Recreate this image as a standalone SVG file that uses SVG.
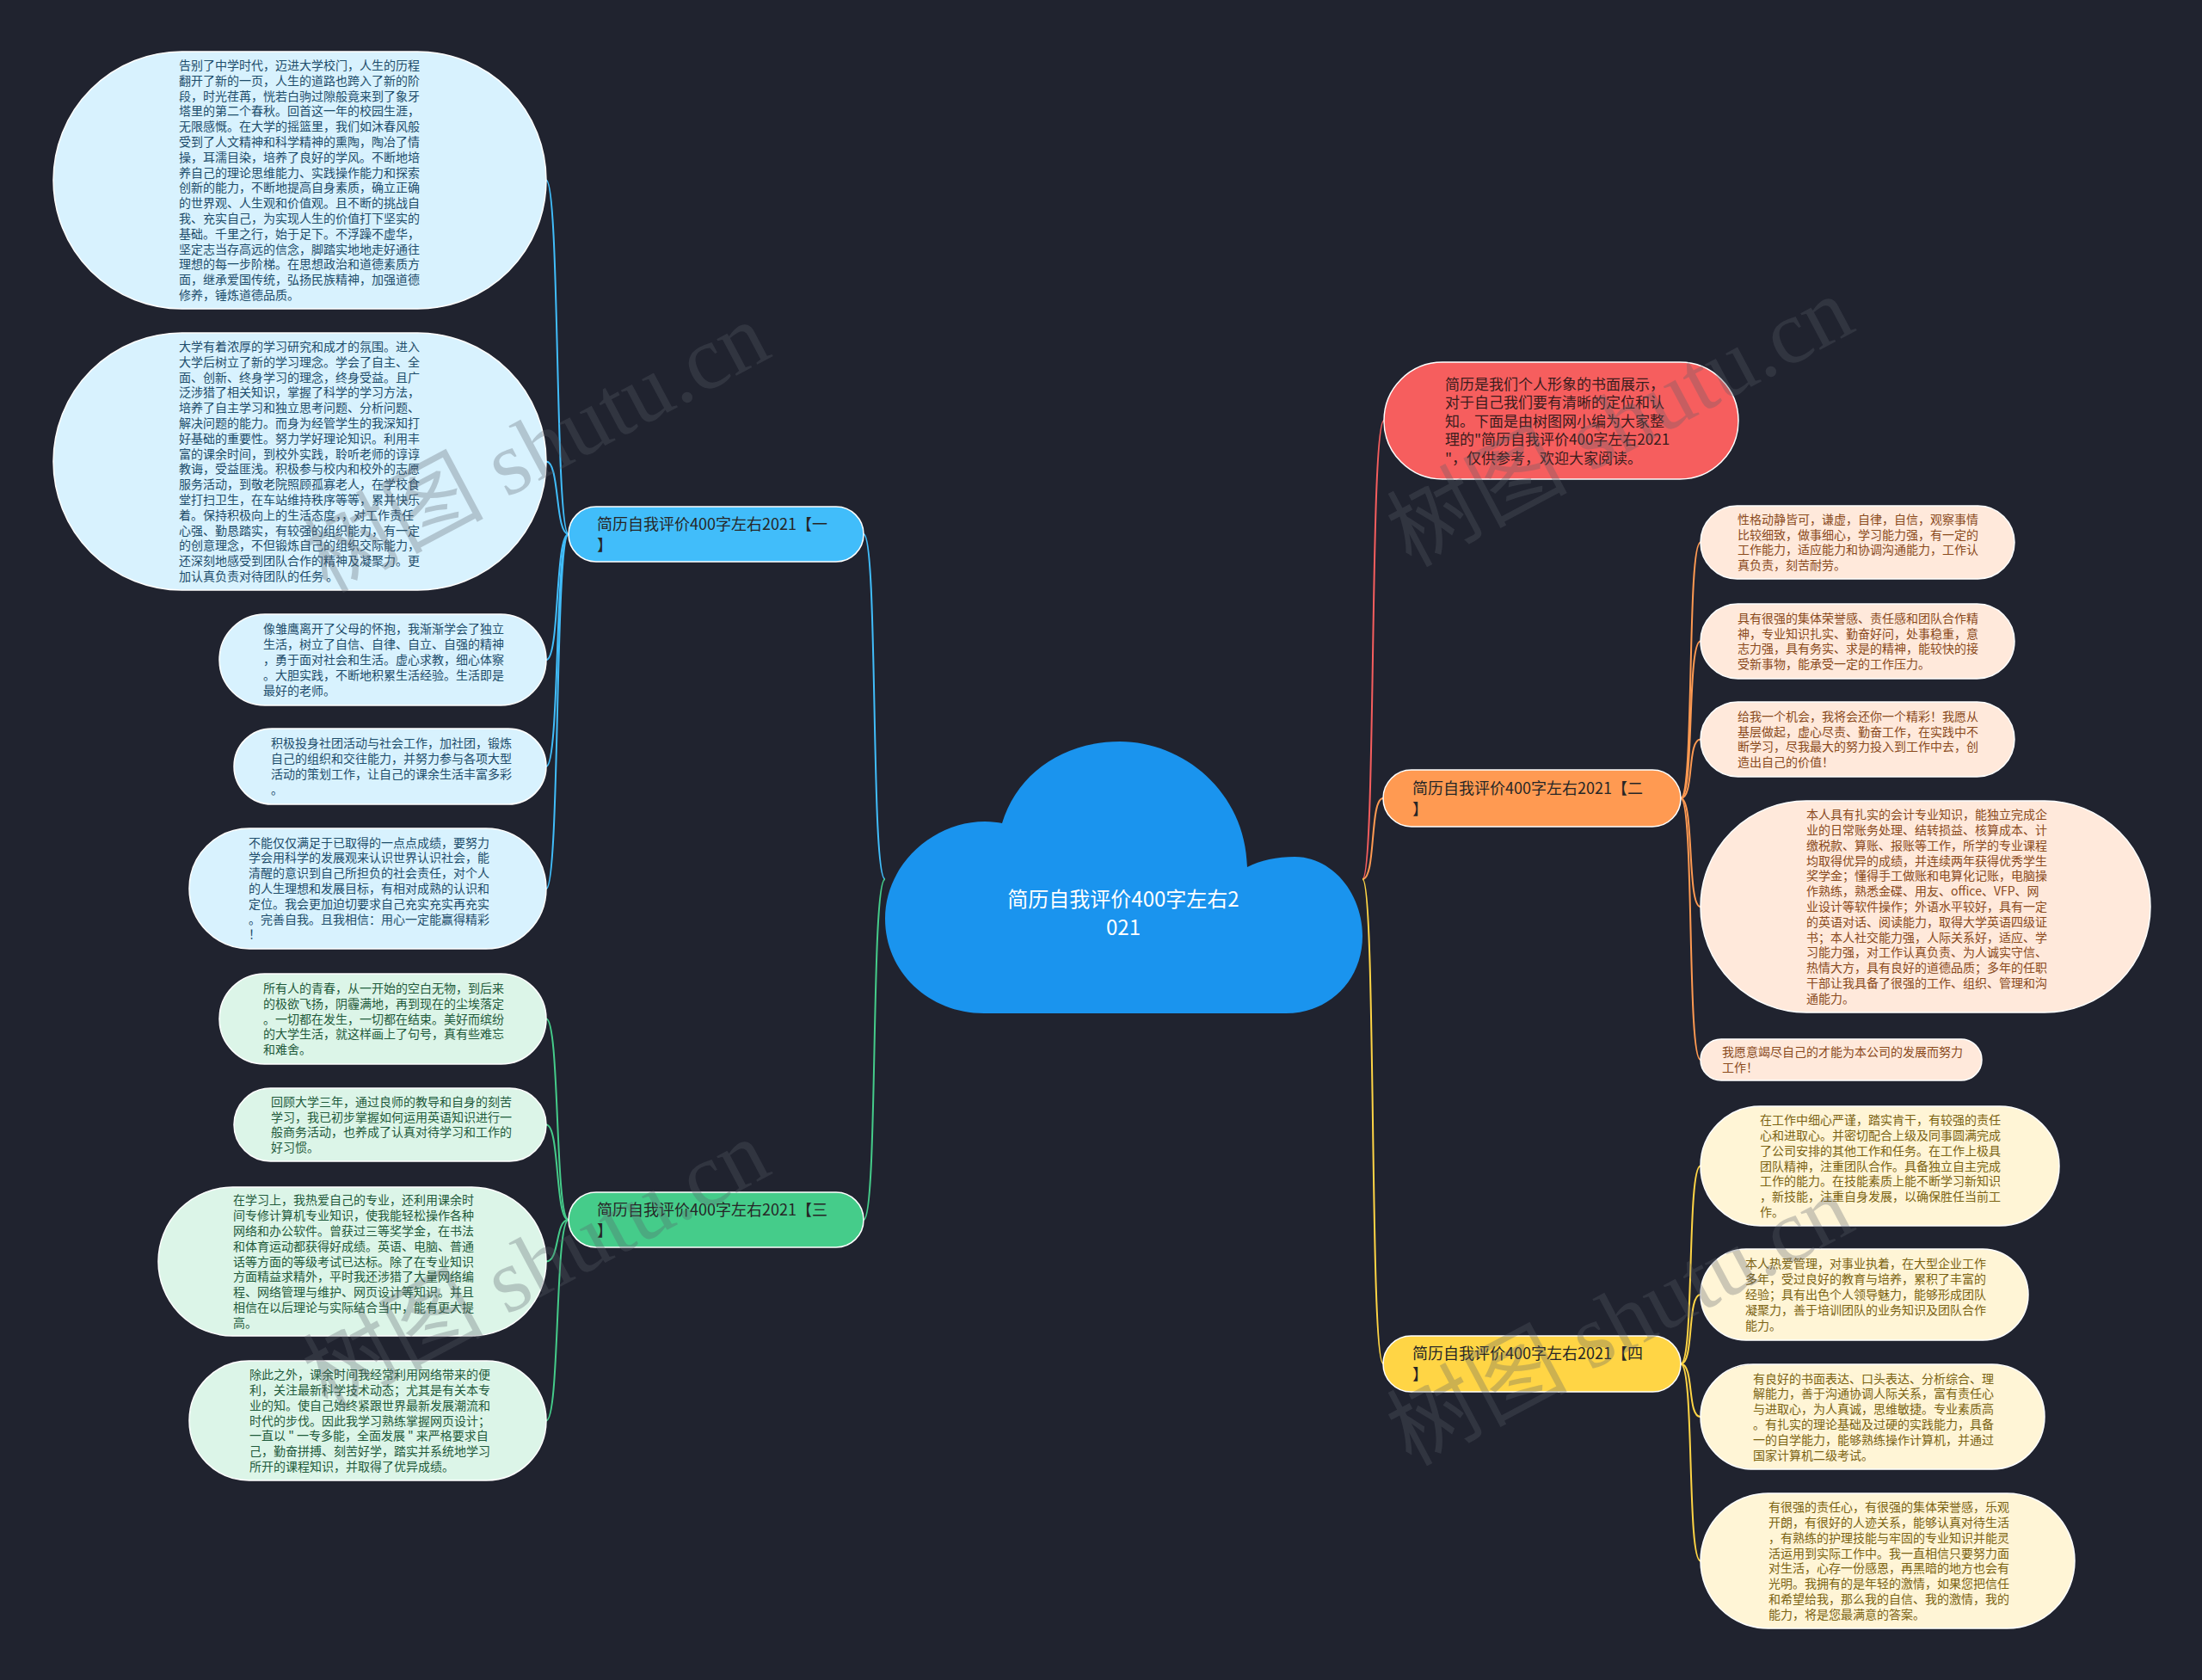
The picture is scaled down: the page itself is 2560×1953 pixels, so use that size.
<svg xmlns="http://www.w3.org/2000/svg" width="2560" height="1953" viewBox="0 0 2560 1953">
<style>
.bg{fill:#20232f}
.ln{fill:none;stroke-width:2}
.nd{stroke:#ffffff;stroke-width:1.5}
.tx{font-family:"Noto Sans CJK SC","Noto Sans",sans-serif;font-size:14px}
.br{font-family:"Noto Sans CJK SC","Noto Sans",sans-serif;font-size:18px;fill:#262626}
.cb{fill:#d8f2fe}.tb{fill:#1d4d6b}
.cg{fill:#dcf5e8}.tg{fill:#1f5a3b}
.co{fill:#ffe9db}.to{fill:#8a4a1c}
.cy{fill:#fff5d6}.ty{fill:#7b6312}
.wm{font-family:"Liberation Serif","Noto Sans CJK SC",serif;font-size:105px;fill:#5a5f6a;opacity:0.3}
</style>
<rect class="bg" x="0" y="0" width="2560" height="1953"/>

<g id="connectors">
<path class="ln" stroke="#41bdfa" d="M1029 1022 C1012 1022,1021 621,1004 621"/>
<path class="ln" stroke="#45cc8a" d="M1029 1022 C1012 1022,1021 1418,1004 1418"/>
<path class="ln" stroke="#f65e5e" d="M1584 1022 C1600 1022,1592 489,1609 489"/>
<path class="ln" stroke="#ff9a52" d="M1584 1022 C1600 1022,1592 928,1608 928"/>
<path class="ln" stroke="#ffd545" d="M1584 1022 C1600 1022,1592 1585,1608 1585"/>
<path class="ln" stroke="#41bdfa" d="M661 621 C645 621,651 209.5,635 209.5"/>
<path class="ln" stroke="#41bdfa" d="M661 621 C645 621,651 536.5,635 536.5"/>
<path class="ln" stroke="#41bdfa" d="M661 621 C645 621,651 767,635 767"/>
<path class="ln" stroke="#41bdfa" d="M661 621 C645 621,651 891,635 891"/>
<path class="ln" stroke="#41bdfa" d="M661 621 C645 621,651 1033,635 1033"/>
<path class="ln" stroke="#45cc8a" d="M661 1418 C645 1418,651 1184.5,635 1184.5"/>
<path class="ln" stroke="#45cc8a" d="M661 1418 C645 1418,651 1307.5,635 1307.5"/>
<path class="ln" stroke="#45cc8a" d="M661 1418 C645 1418,651 1466.5,635 1466.5"/>
<path class="ln" stroke="#45cc8a" d="M661 1418 C645 1418,651 1651.5,635 1651.5"/>
<path class="ln" stroke="#ff9a52" d="M1954 928 C1970 928,1961 630.5,1977 630.5"/>
<path class="ln" stroke="#ff9a52" d="M1954 928 C1970 928,1961 745.5,1977 745.5"/>
<path class="ln" stroke="#ff9a52" d="M1954 928 C1970 928,1961 859.5,1977 859.5"/>
<path class="ln" stroke="#ff9a52" d="M1954 928 C1970 928,1961 1054,1977 1054"/>
<path class="ln" stroke="#ff9a52" d="M1954 928 C1970 928,1961 1232,1977 1232"/>
<path class="ln" stroke="#ffd545" d="M1954 1585.5 C1970 1585.5,1961 1355.5,1977 1355.5"/>
<path class="ln" stroke="#ffd545" d="M1954 1585.5 C1970 1585.5,1961 1505,1977 1505"/>
<path class="ln" stroke="#ffd545" d="M1954 1585.5 C1970 1585.5,1961 1647,1977 1647"/>
<path class="ln" stroke="#ffd545" d="M1954 1585.5 C1970 1585.5,1961 1814.5,1977 1814.5"/>
</g>

<g id="center">
<path fill="#1a94ee" d="M1144 1178 C1080 1178,1029 1130,1029 1068 C1029 1005,1085 955,1145 955 C1153 955,1160 956,1165 957 C1182 900,1235 862,1302 862 C1375 862,1448 920,1450 1008 C1465 1000,1485 996,1505 996 C1550 996,1584 1040,1584 1088 C1584 1140,1545 1178,1495 1178 Z"/>
<text font-family="Noto Sans CJK SC,sans-serif" font-size="24" fill="#ffffff" text-anchor="middle"><tspan x="1306" y="1054">简历自我评价400字左右2</tspan><tspan x="1306" y="1087">021</tspan></text>
</g>

<g id="intro">
<rect x="1609" y="421" width="412" height="136" rx="68" fill="#f65e5e" class="nd"/>
<text font-family="Noto Sans CJK SC,sans-serif" font-size="17" fill="#3a1c1c"><tspan x="1680" y="452.5">简历是我们个人形象的书面展示，</tspan><tspan x="1680" dy="21.5">对于自己我们要有清晰的定位和认</tspan><tspan x="1680" dy="21.5">知。下面是由树图网小编为大家整</tspan><tspan x="1680" dy="21.5">理的"简历自我评价400字左右2021</tspan><tspan x="1680" dy="21.5">"，仅供参考，欢迎大家阅读。</tspan></text>
</g>

<g id="branch1">
<rect x="661" y="589" width="343" height="64" rx="32" fill="#41bdfa" class="nd"/>
<text class="br"><tspan x="694" y="616">简历自我评价400字左右2021【一</tspan><tspan x="694" dy="24">】</tspan></text>
</g>
<g id="branch3">
<rect x="661" y="1386" width="343" height="64" rx="32" fill="#45cc8a" class="nd"/>
<text class="br"><tspan x="694" y="1413">简历自我评价400字左右2021【三</tspan><tspan x="694" dy="24">】</tspan></text>
</g>
<g id="branch2">
<rect x="1608" y="895" width="346" height="66" rx="33" fill="#ff9a52" class="nd"/>
<text class="br"><tspan x="1642" y="923">简历自我评价400字左右2021【二</tspan><tspan x="1642" dy="24">】</tspan></text>
</g>
<g id="branch4">
<rect x="1608" y="1553" width="346" height="65" rx="32.5" fill="#ffd545" class="nd"/>
<text class="br"><tspan x="1642" y="1580">简历自我评价400字左右2021【四</tspan><tspan x="1642" dy="24">】</tspan></text>
</g>

<g id="n1-1">
<rect x="62" y="60" width="573" height="299" rx="149.5" class="cb nd"/>
<text class="tx tb"><tspan x="208" y="81">告别了中学时代，迈进大学校门，人生的历程</tspan><tspan x="208" dy="17.8">翻开了新的一页，人生的道路也跨入了新的阶</tspan><tspan x="208" dy="17.8">段，时光荏苒，恍若白驹过隙般竟来到了象牙</tspan><tspan x="208" dy="17.8">塔里的第二个春秋。回首这一年的校园生涯，</tspan><tspan x="208" dy="17.8">无限感慨。在大学的摇篮里，我们如沐春风般</tspan><tspan x="208" dy="17.8">受到了人文精神和科学精神的熏陶，陶冶了情</tspan><tspan x="208" dy="17.8">操，耳濡目染，培养了良好的学风。不断地培</tspan><tspan x="208" dy="17.8">养自己的理论思维能力、实践操作能力和探索</tspan><tspan x="208" dy="17.8">创新的能力，不断地提高自身素质，确立正确</tspan><tspan x="208" dy="17.8">的世界观、人生观和价值观。且不断的挑战自</tspan><tspan x="208" dy="17.8">我、充实自己，为实现人生的价值打下坚实的</tspan><tspan x="208" dy="17.8">基础。千里之行，始于足下。不浮躁不虚华，</tspan><tspan x="208" dy="17.8">坚定志当存高远的信念，脚踏实地地走好通往</tspan><tspan x="208" dy="17.8">理想的每一步阶梯。在思想政治和道德素质方</tspan><tspan x="208" dy="17.8">面，继承爱国传统，弘扬民族精神，加强道德</tspan><tspan x="208" dy="17.8">修养，锤炼道德品质。</tspan></text>
</g>
<g id="n1-2">
<rect x="62" y="387" width="573" height="299" rx="149.5" class="cb nd"/>
<text class="tx tb"><tspan x="208" y="408">大学有着浓厚的学习研究和成才的氛围。进入</tspan><tspan x="208" dy="17.8">大学后树立了新的学习理念。学会了自主、全</tspan><tspan x="208" dy="17.8">面、创新、终身学习的理念，终身受益。且广</tspan><tspan x="208" dy="17.8">泛涉猎了相关知识，掌握了科学的学习方法，</tspan><tspan x="208" dy="17.8">培养了自主学习和独立思考问题、分析问题、</tspan><tspan x="208" dy="17.8">解决问题的能力。而身为经管学生的我深知打</tspan><tspan x="208" dy="17.8">好基础的重要性。努力学好理论知识。利用丰</tspan><tspan x="208" dy="17.8">富的课余时间，到校外实践，聆听老师的谆谆</tspan><tspan x="208" dy="17.8">教诲，受益匪浅。积极参与校内和校外的志愿</tspan><tspan x="208" dy="17.8">服务活动，到敬老院照顾孤寡老人，在学校食</tspan><tspan x="208" dy="17.8">堂打扫卫生，在车站维持秩序等等，累并快乐</tspan><tspan x="208" dy="17.8">着。保持积极向上的生活态度，，对工作责任</tspan><tspan x="208" dy="17.8">心强、勤恳踏实，有较强的组织能力，有一定</tspan><tspan x="208" dy="17.8">的创意理念，不但锻炼自己的组织交际能力，</tspan><tspan x="208" dy="17.8">还深刻地感受到团队合作的精神及凝聚力。更</tspan><tspan x="208" dy="17.8">加认真负责对待团队的任务 。</tspan></text>
</g>
<g id="n1-3">
<rect x="255" y="714" width="380" height="106" rx="53" class="cb nd"/>
<text class="tx tb"><tspan x="306" y="736.4">像雏鹰离开了父母的怀抱，我渐渐学会了独立</tspan><tspan x="306" dy="17.8">生活，树立了自信、自律、自立、自强的精神</tspan><tspan x="306" dy="17.8">，勇于面对社会和生活。虚心求教，细心体察</tspan><tspan x="306" dy="17.8">。大胆实践，不断地积累生活经验。生活即是</tspan><tspan x="306" dy="17.8">最好的老师。</tspan></text>
</g>
<g id="n1-4">
<rect x="272" y="847" width="363" height="88" rx="44" class="cb nd"/>
<text class="tx tb"><tspan x="315" y="869.3">积极投身社团活动与社会工作，加社团，锻炼</tspan><tspan x="315" dy="17.8">自己的组织和交往能力，并努力参与各项大型</tspan><tspan x="315" dy="17.8">活动的策划工作，让自己的课余生活丰富多彩</tspan><tspan x="315" dy="17.8">。</tspan></text>
</g>
<g id="n1-5">
<rect x="220" y="963" width="415" height="140" rx="70" class="cb nd"/>
<text class="tx tb"><tspan x="289" y="984.6">不能仅仅满足于已取得的一点点成绩，要努力</tspan><tspan x="289" dy="17.8">学会用科学的发展观来认识世界认识社会，能</tspan><tspan x="289" dy="17.8">清醒的意识到自己所担负的社会责任，对个人</tspan><tspan x="289" dy="17.8">的人生理想和发展目标，有相对成熟的认识和</tspan><tspan x="289" dy="17.8">定位。我会更加迫切要求自己充实充实再充实</tspan><tspan x="289" dy="17.8">。完善自我。且我相信：用心一定能赢得精彩</tspan><tspan x="289" dy="17.8">！</tspan></text>
</g>

<g id="n3-1">
<rect x="255" y="1132" width="380" height="105" rx="52.5" class="cg nd"/>
<text class="tx tg"><tspan x="306" y="1153.9">所有人的青春，从一开始的空白无物，到后来</tspan><tspan x="306" dy="17.8">的极欲飞扬，阴霾满地，再到现在的尘埃落定</tspan><tspan x="306" dy="17.8">。一切都在发生，一切都在结束。美好而缤纷</tspan><tspan x="306" dy="17.8">的大学生活，就这样画上了句号，真有些难忘</tspan><tspan x="306" dy="17.8">和难舍。</tspan></text>
</g>
<g id="n3-2">
<rect x="272" y="1265" width="363" height="85" rx="42.5" class="cg nd"/>
<text class="tx tg"><tspan x="315" y="1285.8">回顾大学三年，通过良师的教导和自身的刻苦</tspan><tspan x="315" dy="17.8">学习，我已初步掌握如何运用英语知识进行一</tspan><tspan x="315" dy="17.8">般商务活动，也养成了认真对待学习和工作的</tspan><tspan x="315" dy="17.8">好习惯。</tspan></text>
</g>
<g id="n3-3">
<rect x="184" y="1380" width="451" height="173" rx="86.5" class="cg nd"/>
<text class="tx tg"><tspan x="271" y="1400.3">在学习上，我热爱自己的专业，还利用课余时</tspan><tspan x="271" dy="17.8">间专修计算机专业知识，使我能轻松操作各种</tspan><tspan x="271" dy="17.8">网络和办公软件。曾获过三等奖学金，在书法</tspan><tspan x="271" dy="17.8">和体育运动都获得好成绩。英语、电脑、普通</tspan><tspan x="271" dy="17.8">话等方面的等级考试已达标。除了在专业知识</tspan><tspan x="271" dy="17.8">方面精益求精外，平时我还涉猎了大量网络编</tspan><tspan x="271" dy="17.8">程、网络管理与维护、网页设计等知识。并且</tspan><tspan x="271" dy="17.8">相信在以后理论与实际结合当中，能有更大提</tspan><tspan x="271" dy="17.8">高。</tspan></text>
</g>
<g id="n3-4">
<rect x="220" y="1582" width="415" height="139" rx="69.5" class="cg nd"/>
<text class="tx tg"><tspan x="290" y="1603.1">除此之外，课余时间我经常利用网络带来的便</tspan><tspan x="290" dy="17.8">利，关注最新科学技术动态；尤其是有关本专</tspan><tspan x="290" dy="17.8">业的知。使自己始终紧跟世界最新发展潮流和</tspan><tspan x="290" dy="17.8">时代的步伐。因此我学习熟练掌握网页设计；</tspan><tspan x="290" dy="17.8">一直以 " 一专多能，全面发展 " 来严格要求自</tspan><tspan x="290" dy="17.8">己，勤奋拼搏、刻苦好学，踏实并系统地学习</tspan><tspan x="290" dy="17.8">所开的课程知识，并取得了优异成绩。</tspan></text>
</g>

<g id="n2-1">
<rect x="1977" y="588" width="365" height="85" rx="42.5" class="co nd"/>
<text class="tx to"><tspan x="2020" y="608.8">性格动静皆可，谦虚，自律，自信，观察事情</tspan><tspan x="2020" dy="17.8">比较细致，做事细心，学习能力强，有一定的</tspan><tspan x="2020" dy="17.8">工作能力，适应能力和协调沟通能力，工作认</tspan><tspan x="2020" dy="17.8">真负责，刻苦耐劳。</tspan></text>
</g>
<g id="n2-2">
<rect x="1977" y="702" width="365" height="87" rx="43.5" class="co nd"/>
<text class="tx to"><tspan x="2020" y="723.8">具有很强的集体荣誉感、责任感和团队合作精</tspan><tspan x="2020" dy="17.8">神，专业知识扎实、勤奋好问，处事稳重，意</tspan><tspan x="2020" dy="17.8">志力强，具有务实、求是的精神，能较快的接</tspan><tspan x="2020" dy="17.8">受新事物，能承受一定的工作压力。</tspan></text>
</g>
<g id="n2-3">
<rect x="1977" y="816" width="365" height="87" rx="43.5" class="co nd"/>
<text class="tx to"><tspan x="2020" y="837.8">给我一个机会，我将会还你一个精彩！我愿从</tspan><tspan x="2020" dy="17.8">基层做起，虚心尽责、勤奋工作，在实践中不</tspan><tspan x="2020" dy="17.8">断学习，尽我最大的努力投入到工作中去，创</tspan><tspan x="2020" dy="17.8">造出自己的价值！</tspan></text>
</g>
<g id="n2-4">
<rect x="1977" y="931" width="523" height="246" rx="123" class="co nd"/>
<text class="tx to"><tspan x="2100" y="952.2">本人具有扎实的会计专业知识，能独立完成企</tspan><tspan x="2100" dy="17.8">业的日常账务处理、结转损益、核算成本、计</tspan><tspan x="2100" dy="17.8">缴税款、算账、报账等工作，所学的专业课程</tspan><tspan x="2100" dy="17.8">均取得优异的成绩，并连续两年获得优秀学生</tspan><tspan x="2100" dy="17.8">奖学金；懂得手工做账和电算化记账，电脑操</tspan><tspan x="2100" dy="17.8">作熟练，熟悉金碟、用友、office、VFP、网</tspan><tspan x="2100" dy="17.8">业设计等软件操作；外语水平较好，具有一定</tspan><tspan x="2100" dy="17.8">的英语对话、阅读能力，取得大学英语四级证</tspan><tspan x="2100" dy="17.8">书；本人社交能力强，人际关系好，适应、学</tspan><tspan x="2100" dy="17.8">习能力强，对工作认真负责、为人诚实守信、</tspan><tspan x="2100" dy="17.8">热情大方，具有良好的道德品质；多年的任职</tspan><tspan x="2100" dy="17.8">干部让我具备了很强的工作、组织、管理和沟</tspan><tspan x="2100" dy="17.8">通能力。</tspan></text>
</g>
<g id="n2-5">
<rect x="1977" y="1208" width="327" height="48" rx="24" class="co nd"/>
<text class="tx to"><tspan x="2002" y="1228.1">我愿意竭尽自己的才能为本公司的发展而努力</tspan><tspan x="2002" dy="17.8">工作！</tspan></text>
</g>

<g id="n4-1">
<rect x="1977" y="1286" width="417" height="139" rx="69.5" class="cy nd"/>
<text class="tx ty"><tspan x="2046" y="1307.1">在工作中细心严谨，踏实肯干，有较强的责任</tspan><tspan x="2046" dy="17.8">心和进取心。并密切配合上级及同事圆满完成</tspan><tspan x="2046" dy="17.8">了公司安排的其他工作和任务。在工作上极具</tspan><tspan x="2046" dy="17.8">团队精神，注重团队合作。具备独立自主完成</tspan><tspan x="2046" dy="17.8">工作的能力。在技能素质上能不断学习新知识</tspan><tspan x="2046" dy="17.8">，新技能，注重自身发展，以确保胜任当前工</tspan><tspan x="2046" dy="17.8">作。</tspan></text>
</g>
<g id="n4-2">
<rect x="1977" y="1452" width="381" height="106" rx="53" class="cy nd"/>
<text class="tx ty"><tspan x="2029" y="1474.4">本人热爱管理，对事业执着，在大型企业工作</tspan><tspan x="2029" dy="17.8">多年，受过良好的教育与培养，累积了丰富的</tspan><tspan x="2029" dy="17.8">经验；具有出色个人领导魅力，能够形成团队</tspan><tspan x="2029" dy="17.8">凝聚力，善于培训团队的业务知识及团队合作</tspan><tspan x="2029" dy="17.8">能力。</tspan></text>
</g>
<g id="n4-3">
<rect x="1977" y="1586" width="400" height="122" rx="61" class="cy nd"/>
<text class="tx ty"><tspan x="2038" y="1607.5">有良好的书面表达、口头表达、分析综合、理</tspan><tspan x="2038" dy="17.8">解能力，善于沟通协调人际关系，富有责任心</tspan><tspan x="2038" dy="17.8">与进取心，为人真诚，思维敏捷。专业素质高</tspan><tspan x="2038" dy="17.8">。有扎实的理论基础及过硬的实践能力，具备</tspan><tspan x="2038" dy="17.8">一的自学能力，能够熟练操作计算机，并通过</tspan><tspan x="2038" dy="17.8">国家计算机二级考试。</tspan></text>
</g>
<g id="n4-4">
<rect x="1977" y="1736" width="435" height="157" rx="78.5" class="cy nd"/>
<text class="tx ty"><tspan x="2056" y="1757.2">有很强的责任心，有很强的集体荣誉感，乐观</tspan><tspan x="2056" dy="17.8">开朗，有很好的人迹关系，能够认真对待生活</tspan><tspan x="2056" dy="17.8">，有熟练的护理技能与牢固的专业知识并能灵</tspan><tspan x="2056" dy="17.8">活运用到实际工作中。我一直相信只要努力面</tspan><tspan x="2056" dy="17.8">对生活，心存一份感恩，再黑暗的地方也会有</tspan><tspan x="2056" dy="17.8">光明。我拥有的是年轻的激情，如果您把信任</tspan><tspan x="2056" dy="17.8">和希望给我，那么我的自信、我的激情，我的</tspan><tspan x="2056" dy="17.8">能力，将是您最满意的答案。</tspan></text>
</g>

<g id="watermarks">
<text class="wm" transform="translate(380 690) rotate(-28)">树图 shutu.cn</text>
<text class="wm" transform="translate(1640 660) rotate(-28)">树图 shutu.cn</text>
<text class="wm" transform="translate(380 1640) rotate(-28)">树图 shutu.cn</text>
<text class="wm" transform="translate(1640 1705) rotate(-28)">树图 shutu.cn</text>
</g>
</svg>
